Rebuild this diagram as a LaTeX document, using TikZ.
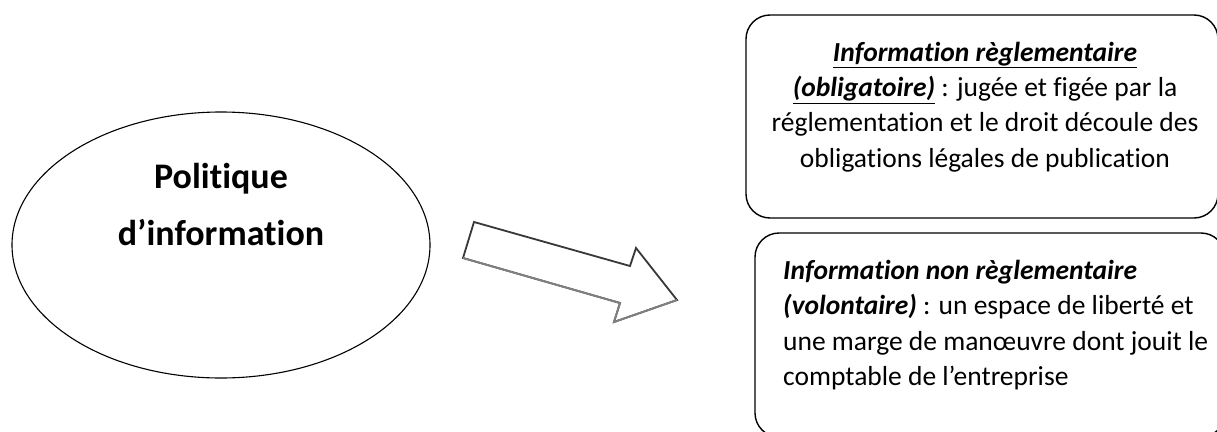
\documentclass[tikz,border=0pt]{standalone}
\usepackage{fontspec}
\setmainfont[RawFeature={-liga;-clig}]{Carlito}
\usetikzlibrary{shapes.geometric}
\newcommand{\myul}[1]{\underline{#1}}
\tikzset{
  infobox/.style={draw=black, line width=1.4pt, rounded corners=24pt, inner sep=0pt},
  boxtext/.style={font=\fontsize{27.5}{35.2}\selectfont, inner sep=0pt},
  ovaltext/.style={font=\fontsize{36}{57}\selectfont\bfseries, align=center, inner sep=0pt},
  bigarrow/.style={draw=black!78, line width=1.8pt, line join=miter, fill=white},
  arrowshade/.style={draw=black!50, line width=1.8pt, line join=miter}
}
\begin{document}
\begin{tikzpicture}[x=1pt,y=-1pt]
\useasboundingbox (0,0) rectangle (1217,431);
\clip (0,0) rectangle (1217,431);
\fill[white] (0,0) rectangle (1217,431);
% ellipse
\node[draw=black, line width=1.1pt, ellipse, minimum width=418pt, minimum height=266pt, inner sep=0pt] (oval) at (221,245) {};
\node[ovaltext] (ovtxt) at (221,204) {Politique\\d’information};
% arrow
\coordinate (a1) at (474,222);
\coordinate (a2) at (630,266);
\coordinate (a3) at (636,248);
\coordinate (a4) at (677,300);
\coordinate (a5) at (614,322);
\coordinate (a6) at (620,303);
\coordinate (a7) at (463,258);
\draw[bigarrow] (a1) -- (a2) -- (a3) -- (a4) -- (a5) -- (a6) -- (a7) -- cycle;
\draw[arrowshade] (a7) -- (a6) -- (a5) -- (a4);
% boxes
\node[infobox, minimum width=472pt, minimum height=203pt] (box1) at (982,116.5) {};
\node[infobox, minimum width=470pt, minimum height=204pt] (box2) at (990,335) {};
\node[boxtext, align=center] (txt1) at (985,107) {\myul{\textbf{\textit{Information règlementaire}}}\\
\myul{\textbf{\textit{(obligatoire)}}} : jugée et figée par la\\
réglementation et le droit découle des\\
obligations légales de publication};
\node[boxtext, align=left, anchor=west] (txt2) at (783,325) {\textbf{\textit{Information non règlementaire}}\\
\textbf{\textit{(volontaire)}} : un espace de liberté et\\
une marge de manœuvre dont jouit le\\
comptable de l’entreprise};
\end{tikzpicture}
\end{document}
